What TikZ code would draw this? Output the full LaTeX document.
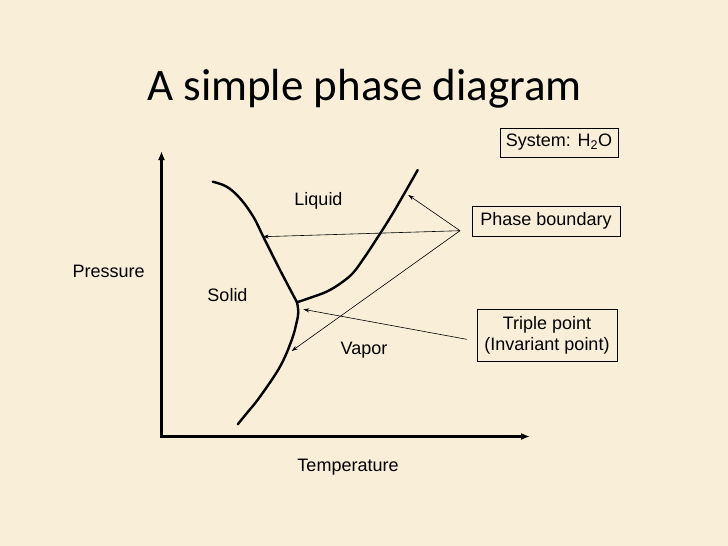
\documentclass[tikz,border=0pt]{standalone}
\usepackage{fontspec}
\setmainfont{Liberation Sans}
\newfontfamily\titlefont{Carlito}
\usepackage{tikz}
\usetikzlibrary{arrows.meta}
\definecolor{parchment}{RGB}{249,238,215}
\tikzset{
    lbl/.style={anchor=base, font=\fontsize{18}{21}\selectfont},
    infobox/.style={draw, thin, align=center, inner sep=2pt, font=\fontsize{18}{21}\selectfont},
    boundary/.style={line width=2.4pt, line cap=round, smooth, tension=0.6},
    pointer/.style={-{Stealth[length=6pt, width=4pt]}, line width=0.6pt}
}

\begin{document}
\begin{tikzpicture}[x=1pt, y=-1pt]
            \fill[parchment] (0,0) rectangle (728,546);
            \useasboundingbox (0,0) rectangle (728,546);
            \node[anchor=base west, font=\titlefont\fontsize{45}{54}\selectfont, inner sep=0pt] (title) at (147,100) {A simple phase diagram};
            \draw[line width=2.8pt, -{Latex[length=9pt, width=7pt]}] (161.5,436.5) -- (161.5,151);
            \draw[line width=2.8pt, -{Latex[length=9pt, width=7pt]}] (160,436.5) -- (530,436.5);
            \node[lbl] (pres) at (108.7,277) {Pressure};
            \node[lbl] (temp) at (348,471.5) {Temperature};
            \node[lbl] (liq) at (318.5,205) {Liquid};
            \node[lbl] (sol) at (227.5,301.5) {Solid};
            \node[lbl] (vap) at (364,354) {Vapor};
            \coordinate (tri) at (297,302.3);
            \draw[boundary] plot coordinates {(212.7,181.7) (226.7,186.7) (240,198.3) (253.3,216.7) (263.3,236.7) (280,270) (tri)};
            \draw[boundary] plot coordinates {(tri) (311,297.5) (327,291.5) (341,283) (353,273) (364,258) (374,243) (393,213) (417.7,170)};
            \draw[boundary] plot coordinates {(tri) (298.3,312) (296.7,322) (291.7,340) (280,366.7) (260,396.7) (246.7,413.3) (237.7,424.3)};
            \node[infobox, minimum width=118pt, minimum height=29pt] (sys) at (559,142.5) {System: H\textsubscript{2}O};
            \node[infobox, minimum width=148pt, minimum height=30pt] (pb) at (546,221) {Phase boundary};
            \node[infobox, minimum width=140pt, minimum height=52pt] (tp) at (547,335) {Triple point\\(Invariant point)};
            \coordinate (pbfoot) at (460,230.7);
            \coordinate (tpfoot) at (466.7,339.3);
            \foreach \tip in {(408.3,195), (262.7,236.7), (291.7,351)} {
                \draw[pointer] (pbfoot) -- \tip;
            }
            \draw[pointer] (tpfoot) -- (303.3,309.3);
        \end{tikzpicture}
\end{document}
